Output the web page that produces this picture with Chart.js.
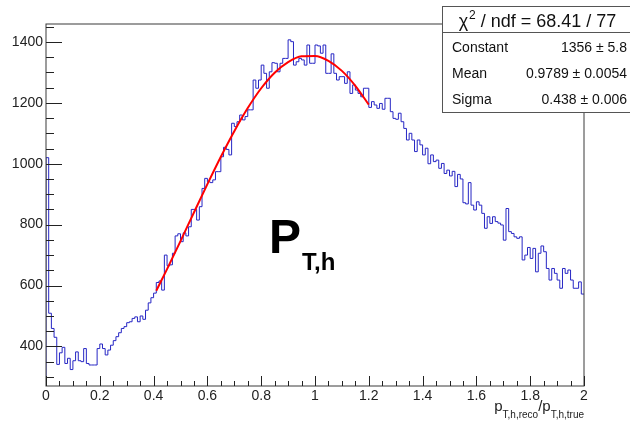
<!DOCTYPE html>
<html>
<head>
<meta charset="utf-8">
<script src="https://cdn.jsdelivr.net/npm/chart.js@4"></script>
<style>
  body { margin: 0; background: #fff; overflow: hidden; }
</style>
</head>
<body>
<canvas id="histo" width="630" height="422"></canvas>
<script>
// histogram: 200 bins of width 0.01 from 0 to 2
var binLow = 0;
var binWidth = 0.01;
var counts = [
  1020, 509, 459, 430, 341, 379, 397, 344, 361, 324,
  353, 382, 353, 350, 393, 344, 339, 339, 339, 393,
  408, 393, 372, 388, 404, 419, 432, 445, 459, 465,
  478, 481, 492, 497, 481, 500, 489, 519, 543, 560,
  575, 610, 615, 585, 700, 665, 668, 706, 763, 770,
  744, 773, 763, 793, 850, 850, 815, 859, 919, 952,
  941, 938, 947, 974, 974, 1023, 1054, 1047, 1029, 1133,
  1122, 1138, 1160, 1144, 1155, 1177, 1177, 1275, 1248, 1275,
  1324, 1297, 1248, 1302, 1332, 1330, 1302, 1330, 1346, 1346,
  1407, 1401, 1324, 1335, 1346, 1341, 1324, 1390, 1330, 1330,
  1390, 1387, 1363, 1390, 1297, 1297, 1361, 1297, 1275, 1286,
  1286, 1264, 1302, 1231, 1259, 1242, 1231, 1220, 1248, 1248,
  1185, 1204, 1193, 1182, 1198, 1179, 1215, 1215, 1171, 1149,
  1146, 1166, 1138, 1116, 1078, 1100, 1078, 1040, 1078, 1062,
  1029, 1051, 1000, 1029, 1007, 1012, 985, 1001, 968, 979,
  960, 975, 925, 965, 950, 872, 868, 938, 864, 848,
  875, 864, 837, 788, 826, 804, 826, 810, 805, 799,
  749, 853, 777, 771, 760, 755, 760, 684, 700, 725,
  689, 722, 645, 706, 730, 711, 656, 618, 656, 640,
  618, 591, 656, 640, 651, 618, 591, 591, 612, 572
];

// gaus fit curve
var fitX = [0.41, 0.45, 0.50, 0.55, 0.60, 0.65, 0.70, 0.75, 0.80, 0.85, 0.90, 0.95, 1.00, 1.05, 1.10, 1.15, 1.20];
var fitY = [583, 654, 746, 840, 933, 1023, 1107, 1183, 1248, 1299, 1334, 1353, 1354, 1338, 1305, 1256, 1194];

var xTickValues = [0, 0.2, 0.4, 0.6, 0.8, 1, 1.2, 1.4, 1.6, 1.8, 2];
var yTickValues = [400, 600, 800, 1000, 1200, 1400];
var xMin = 0, xMax = 2;
var yMin = 270, yMax = 1459;

var statTitle = ['\u03c7', '2', ' / ndf = 68.41 / 77'];
var statNames = ['Constant', 'Mean', 'Sigma'];
var statValues = ['1356 \u00b1 5.8', '0.9789 \u00b1 0.0054', '0.438 \u00b1 0.006'];

var FONT = "'Liberation Sans', Arial, sans-serif";

var histPoints = [{ x: binLow, y: yMin }];
counts.forEach(function (c, i) {
  histPoints.push({ x: binLow + i * binWidth, y: c });
});
histPoints.push({ x: binLow + counts.length * binWidth, y: counts[counts.length - 1] });

var fitPoints = fitX.map(function (x, i) { return { x: x, y: fitY[i] }; });

// frame, minor ticks, titles and the stats box, ROOT style
var rootDecor = {
  id: 'rootDecor',
  afterDraw: function (chart) {
    var c = chart.ctx, a = chart.chartArea;
    var xs = chart.scales.x, ys = chart.scales.y;
    c.save();

    c.strokeStyle = '#3a3a3a';
    c.lineWidth = 1;
    c.strokeRect(a.left, a.top, a.right - a.left, a.bottom - a.top);

    c.strokeStyle = '#222';
    c.beginPath();
    for (var v = 300; v <= 1450; v += 50) {
      var py = Math.round(ys.getPixelForValue(v)) + 0.5;
      var len = (v % 200 === 0) ? 16 : 8;
      c.moveTo(a.left, py);
      c.lineTo(a.left + len, py);
    }
    for (var i = 0; i <= 40; i++) {
      var px = Math.round(xs.getPixelForValue(i * 0.05)) + 0.5;
      var tl = (i % 4 === 0) ? 10 : 5;
      c.moveTo(px, a.bottom);
      c.lineTo(px, a.bottom - tl);
    }
    c.stroke();

    // x axis title p_{T,h,reco}/p_{T,h,true}
    var parts = [['p', 15, 0], ['T,h,reco', 10, 7], ['/', 15, 0], ['p', 15, 0], ['T,h,true', 10, 7]];
    var total = 0;
    parts.forEach(function (p) {
      c.font = p[1] + 'px ' + FONT;
      total += c.measureText(p[0]).width;
    });
    var tx = a.right - total;
    c.fillStyle = '#222';
    c.textAlign = 'left';
    c.textBaseline = 'alphabetic';
    parts.forEach(function (p) {
      c.font = p[1] + 'px ' + FONT;
      c.fillText(p[0], tx, 411 + p[2]);
      tx += c.measureText(p[0]).width;
    });

    // P_{T,h} label
    c.fillStyle = '#000';
    c.font = 'bold 48px ' + FONT;
    c.fillText('P', 269, 253);
    c.font = 'bold 24px ' + FONT;
    c.fillText('T,h', 302, 270);

    // stats box
    var bx = 442, by = 6, bw = 190, bh = 106;
    c.fillStyle = '#fff';
    c.fillRect(bx, by, bw, bh);
    c.strokeStyle = '#555';
    c.strokeRect(bx + 0.5, by + 0.5, bw, bh);
    c.beginPath();
    c.moveTo(bx, 32.5);
    c.lineTo(bx + bw, 32.5);
    c.stroke();

    c.fillStyle = '#111';
    c.font = '18px ' + FONT;
    var w0 = c.measureText(statTitle[0]).width;
    var w2 = c.measureText(statTitle[2]).width;
    c.font = '12px ' + FONT;
    var w1 = c.measureText(statTitle[1]).width;
    var sx = 537 - (w0 + w1 + w2) / 2;
    c.font = '18px ' + FONT;
    c.fillText(statTitle[0], sx, 27);
    c.font = '12px ' + FONT;
    c.fillText(statTitle[1], sx + w0 + 1, 19);
    c.font = '18px ' + FONT;
    c.fillText(statTitle[2], sx + w0 + w1 + 1, 27);

    c.font = '14px ' + FONT;
    statNames.forEach(function (n, k) {
      var yb = 52 + k * 26;
      c.textAlign = 'left';
      c.fillText(n, 452, yb);
      c.textAlign = 'right';
      c.fillText(statValues[k], 627, yb);
    });

    c.restore();
  }
};

var ctx = document.getElementById('histo').getContext('2d');
var histo = new Chart(ctx, {
  type: 'line',
  data: {
    datasets: [{
      label: 'gaus fit',
      data: fitPoints,
      borderColor: 'rgb(255, 0, 0)',
      borderWidth: 2,
      pointRadius: 0,
      cubicInterpolationMode: 'monotone',
      fill: false,
      order: 0
    }, {
      label: 'pT,h reco / true',
      data: histPoints,
      borderColor: 'rgb(38, 38, 196)',
      borderWidth: 1,
      pointRadius: 0,
      stepped: 'before',
      fill: false,
      order: 1
    }]
  },
  options: {
    responsive: false,
    animation: false,
    layout: { padding: { left: 0, right: 46, top: 24, bottom: 0 } },
    plugins: {
      legend: { display: false },
      tooltip: { enabled: false }
    },
    scales: {
      x: {
        type: 'linear',
        min: xMin,
        max: xMax,
        grid: { display: false, drawTicks: false },
        border: { display: false },
        afterBuildTicks: function (s) {
          s.ticks = xTickValues.map(function (v) { return { value: v }; });
        },
        afterFit: function (s) { s.height = 36; },
        ticks: {
          autoSkip: false,
          maxRotation: 0,
          padding: 2,
          color: '#222',
          font: { family: FONT, size: 14 },
          callback: function (v) { return String(v); }
        }
      },
      y: {
        min: yMin,
        max: yMax,
        grid: { display: false, drawTicks: false },
        border: { display: false },
        afterBuildTicks: function (s) {
          s.ticks = yTickValues.map(function (v) { return { value: v }; });
        },
        afterFit: function (s) { s.width = 46; },
        ticks: {
          padding: 3,
          color: '#222',
          font: { family: FONT, size: 14 },
          callback: function (v) { return String(v); }
        }
      }
    }
  },
  plugins: [rootDecor]
});
</script>
</body>
</html>
